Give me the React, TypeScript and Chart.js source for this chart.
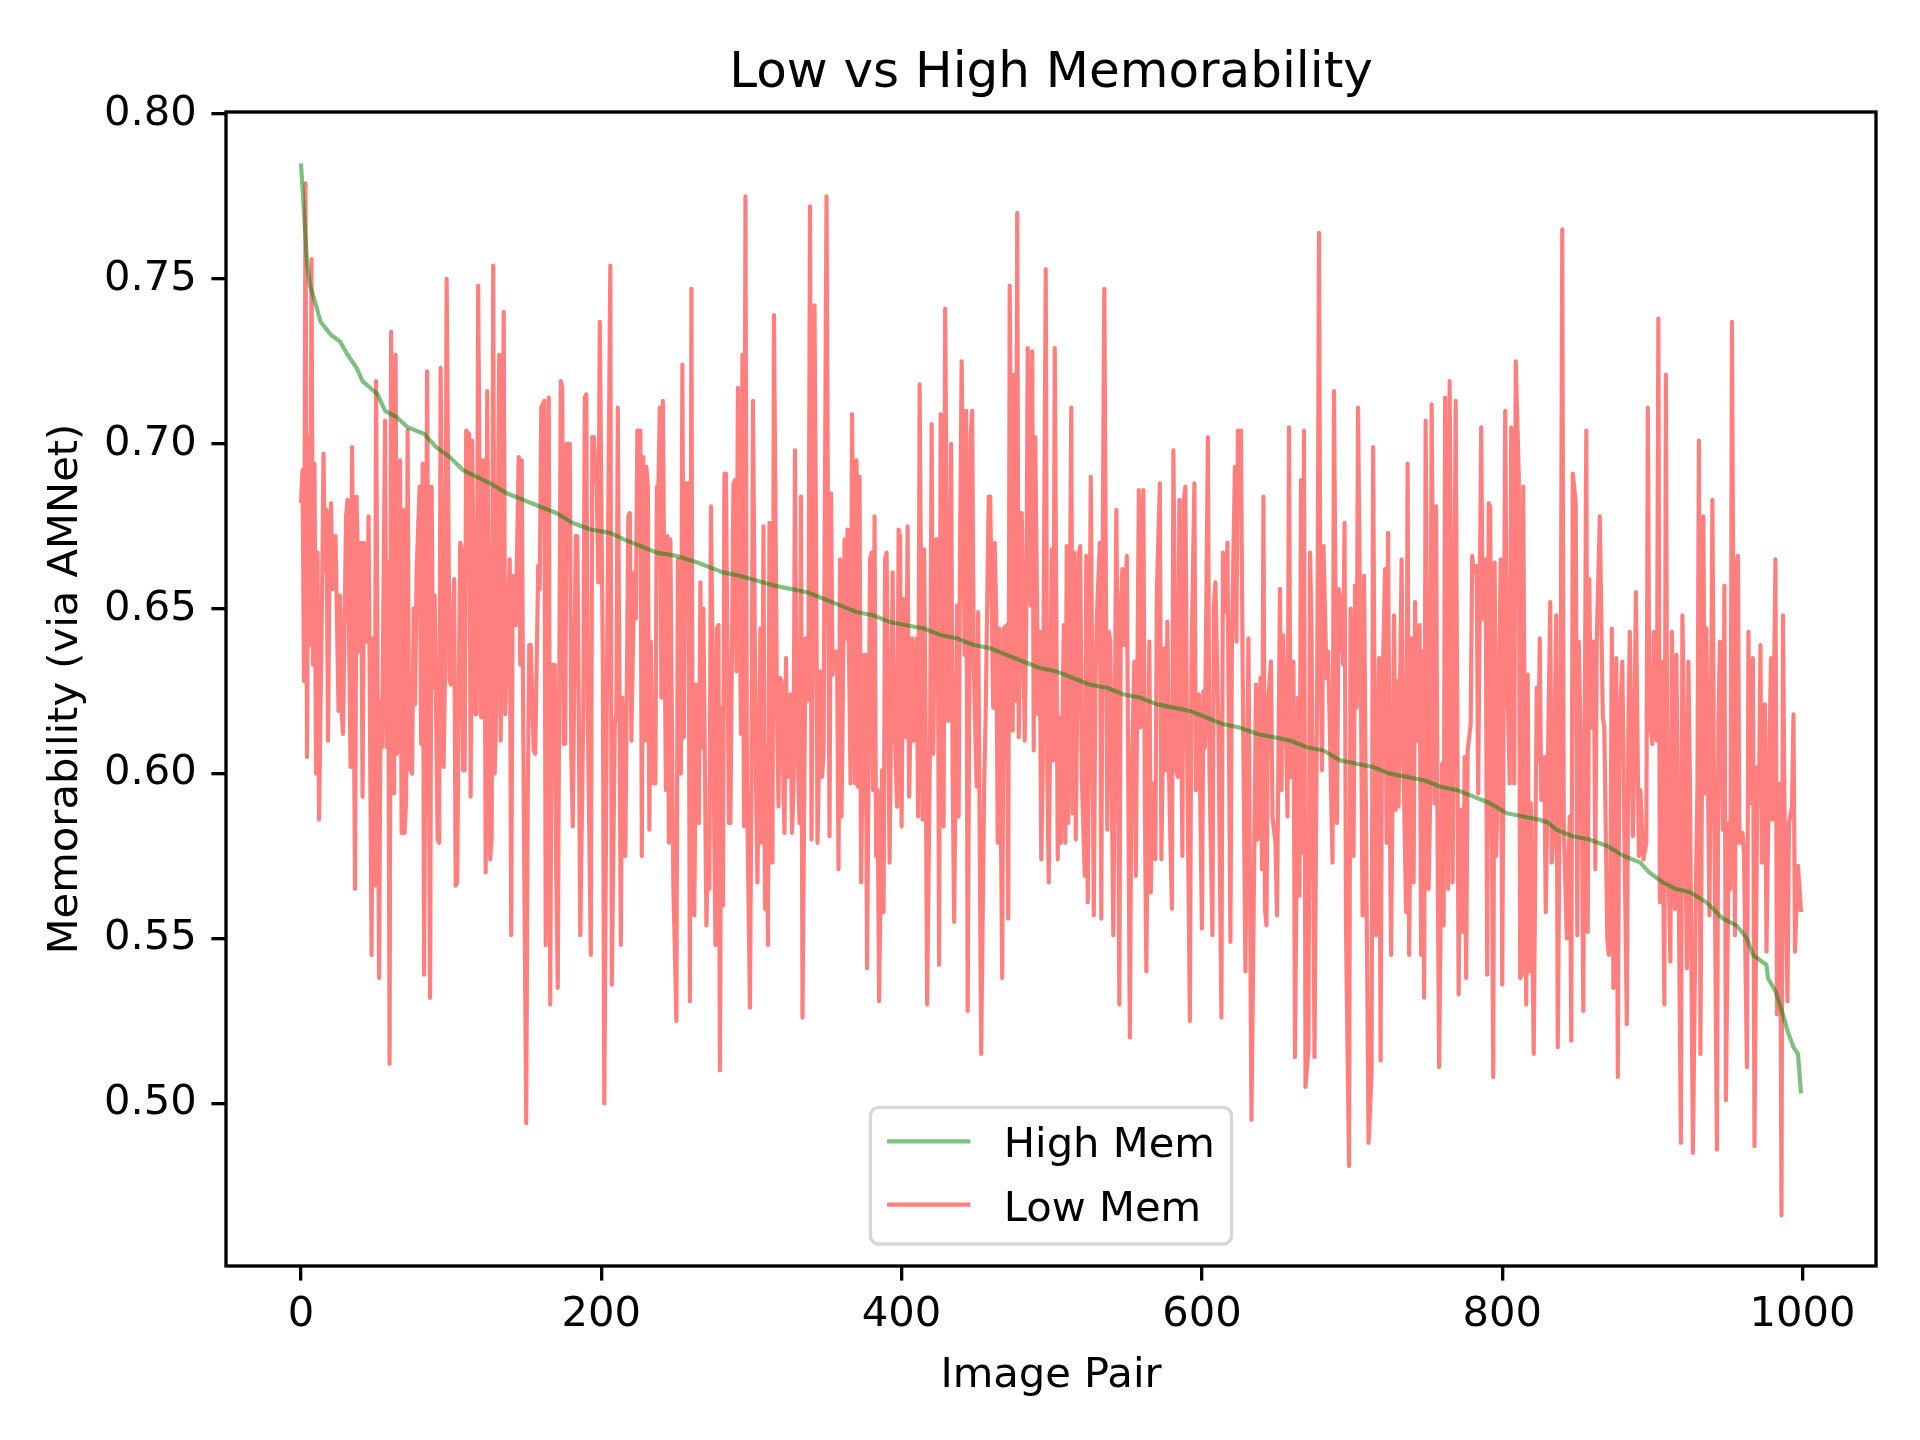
import { useEffect, useRef } from "react";
import { Chart, registerables } from "chart.js";

Chart.register(...registerables);

const FONT = '"DejaVu Sans", "Liberation Sans", sans-serif';

const chartTitle = "Low vs High Memorability";
const xAxisTitle = "Image Pair";
const yAxisTitle = "Memorability (via AMNet)";

const xTicks = [0, 200, 400, 600, 800, 1000];
const yTicks = [0.5, 0.55, 0.6, 0.65, 0.7, 0.75, 0.8];

const seriesLabels = ["High Mem", "Low Mem"];
const seriesColors = ["rgba(0, 128, 0, 0.5)", "rgba(255, 0, 0, 0.5)"];

// [image pair, memorability]
const highMem: [number, number][] = [
  [0, 0.785], [2, 0.770], [4, 0.755], [6, 0.748], [10, 0.742], [13, 0.737], [20, 0.733], [26, 0.731],
  [31, 0.727], [37, 0.723], [41, 0.719], [46, 0.717], [51, 0.715], [56, 0.710], [64, 0.708], [71, 0.705],
  [82, 0.703], [90, 0.699], [99, 0.696], [108, 0.692], [117, 0.690], [126, 0.688], [137, 0.685], [148, 0.683],
  [159, 0.681], [170, 0.679], [181, 0.676], [193, 0.674], [206, 0.673], [215, 0.671], [226, 0.669], [237, 0.667],
  [250, 0.666], [264, 0.664], [281, 0.661], [292, 0.660], [315, 0.657], [326, 0.656], [337, 0.655], [348, 0.653],
  [359, 0.651], [370, 0.649], [381, 0.648], [392, 0.646], [403, 0.645], [415, 0.644], [426, 0.642], [437, 0.641],
  [448, 0.639], [459, 0.638], [470, 0.636], [481, 0.634], [492, 0.632], [503, 0.631], [514, 0.629], [525, 0.627],
  [537, 0.626], [548, 0.624], [559, 0.623], [570, 0.621], [581, 0.620], [592, 0.619], [603, 0.617], [614, 0.615],
  [625, 0.614], [637, 0.612], [648, 0.611], [659, 0.610], [670, 0.608], [681, 0.607], [692, 0.604], [703, 0.603],
  [714, 0.602], [725, 0.600], [736, 0.599], [748, 0.598], [759, 0.596], [770, 0.595], [781, 0.593], [792, 0.591],
  [803, 0.588], [814, 0.587], [825, 0.586], [831, 0.585], [836, 0.583], [847, 0.581], [858, 0.580], [870, 0.578],
  [881, 0.575], [892, 0.573], [898, 0.570], [907, 0.567], [916, 0.565], [925, 0.564], [936, 0.561], [947, 0.556],
  [956, 0.554], [963, 0.550], [967, 0.545], [976, 0.542], [977, 0.538], [982, 0.534], [987, 0.527], [990, 0.522],
  [994, 0.517], [997, 0.515], [999, 0.503],
];

const lowMem: [number, number][] = [
  // 0 - 126
  [0, 0.682], [1, 0.692], [2, 0.628], [3, 0.779], [4, 0.605], [5, 0.702], [6, 0.639], [7, 0.756], [8, 0.633],
  [9, 0.694], [10, 0.600], [11, 0.667], [12, 0.586], [14, 0.653], [15, 0.697], [16, 0.662], [17, 0.680],
  [18, 0.610], [19, 0.665], [20, 0.682], [21, 0.656], [22, 0.665], [23, 0.672], [25, 0.619], [26, 0.654],
  [27, 0.619], [28, 0.612], [30, 0.678], [31, 0.683], [33, 0.602], [34, 0.699], [36, 0.565], [37, 0.684],
  [39, 0.637], [40, 0.670], [41, 0.593], [42, 0.670], [44, 0.640], [45, 0.678], [47, 0.545], [48, 0.641],
  [49, 0.566], [50, 0.719], [52, 0.538], [53, 0.622], [54, 0.608], [56, 0.707], [57, 0.608], [58, 0.664],
  [59, 0.512], [60, 0.734], [62, 0.594], [63, 0.727], [64, 0.606], [66, 0.695], [67, 0.582], [68, 0.680],
  [69, 0.582], [70, 0.592], [71, 0.704], [72, 0.602], [74, 0.600], [75, 0.650], [76, 0.621], [77, 0.661],
  [79, 0.687], [80, 0.609], [81, 0.694], [82, 0.539], [84, 0.722], [86, 0.532], [87, 0.687], [88, 0.626],
  [89, 0.654], [91, 0.580], [92, 0.579], [93, 0.723], [95, 0.602], [96, 0.633], [97, 0.750], [99, 0.628],
  [100, 0.627], [102, 0.659], [103, 0.566], [104, 0.567], [106, 0.670], [107, 0.668], [108, 0.601], [109, 0.601],
  [110, 0.704], [112, 0.703], [113, 0.593], [114, 0.701], [115, 0.660], [116, 0.618], [117, 0.618], [118, 0.748],
  [120, 0.617], [121, 0.695], [122, 0.695], [123, 0.570], [124, 0.716], [126, 0.574],
  // 127 - 291
  [127, 0.581], [128, 0.754], [129, 0.600], [130, 0.618], [132, 0.727], [133, 0.610], [135, 0.740], [136, 0.618],
  [139, 0.665], [140, 0.551], [141, 0.660], [142, 0.659], [143, 0.645], [145, 0.696], [146, 0.633], [147, 0.695],
  [148, 0.614], [150, 0.494], [151, 0.591], [152, 0.639], [153, 0.639], [155, 0.607], [156, 0.606], [158, 0.663],
  [159, 0.656], [160, 0.711], [162, 0.713], [163, 0.548], [165, 0.714], [166, 0.530], [167, 0.633], [169, 0.633],
  [170, 0.568], [171, 0.535], [173, 0.719], [174, 0.717], [175, 0.609], [176, 0.609], [177, 0.700], [179, 0.700],
  [180, 0.606], [181, 0.584], [183, 0.672], [184, 0.672], [185, 0.618], [186, 0.551], [188, 0.618], [189, 0.714],
  [190, 0.715], [191, 0.618], [193, 0.545], [194, 0.702], [195, 0.702], [197, 0.686], [198, 0.658], [199, 0.737],
  [201, 0.634], [202, 0.500], [204, 0.643], [206, 0.754], [207, 0.536], [209, 0.615], [210, 0.618], [211, 0.711],
  [213, 0.548], [214, 0.623], [215, 0.595], [216, 0.575], [218, 0.678], [219, 0.679], [220, 0.610], [222, 0.661],
  [223, 0.647], [224, 0.704], [226, 0.704], [227, 0.575], [228, 0.696], [229, 0.610], [230, 0.693], [231, 0.687],
  [232, 0.583], [233, 0.640], [234, 0.597], [236, 0.597], [237, 0.687], [238, 0.687], [239, 0.711], [240, 0.623],
  [241, 0.713], [243, 0.595], [244, 0.672], [245, 0.579], [246, 0.671], [248, 0.565], [249, 0.546], [250, 0.525],
  [251, 0.665], [253, 0.600], [254, 0.724], [255, 0.611], [256, 0.688], [258, 0.688], [259, 0.531], [260, 0.747],
  [261, 0.558], [262, 0.557], [263, 0.627], [265, 0.585], [266, 0.658], [267, 0.608], [268, 0.650], [270, 0.554],
  [271, 0.576], [272, 0.565], [273, 0.681], [274, 0.641], [276, 0.548], [277, 0.644], [278, 0.645], [279, 0.510],
  [280, 0.620], [281, 0.560], [282, 0.691], [283, 0.691], [285, 0.585], [286, 0.585], [288, 0.688], [289, 0.689],
  [290, 0.631], [291, 0.717],
  // 293 - 458
  [293, 0.612], [294, 0.727], [295, 0.584], [296, 0.775], [297, 0.597], [299, 0.529], [300, 0.599], [301, 0.713],
  [303, 0.597], [304, 0.567], [306, 0.644], [307, 0.579], [308, 0.675], [309, 0.559], [310, 0.608], [311, 0.548],
  [312, 0.676], [314, 0.573], [315, 0.739], [317, 0.620], [318, 0.590], [319, 0.629], [320, 0.628], [322, 0.582],
  [323, 0.635], [324, 0.599], [326, 0.624], [327, 0.582], [328, 0.595], [329, 0.698], [330, 0.620], [332, 0.585],
  [333, 0.684], [334, 0.526], [336, 0.641], [337, 0.622], [338, 0.641], [339, 0.772], [340, 0.580], [342, 0.742],
  [343, 0.674], [344, 0.579], [346, 0.631], [347, 0.599], [348, 0.606], [350, 0.775], [351, 0.674], [352, 0.581],
  [353, 0.685], [354, 0.630], [355, 0.637], [357, 0.637], [358, 0.571], [359, 0.665], [360, 0.587], [362, 0.671],
  [363, 0.641], [364, 0.674], [366, 0.597], [367, 0.709], [369, 0.597], [370, 0.695], [371, 0.596], [372, 0.690],
  [373, 0.567], [375, 0.636], [376, 0.636], [377, 0.541], [379, 0.665], [380, 0.667], [381, 0.595], [382, 0.678],
  [383, 0.575], [384, 0.595], [385, 0.531], [387, 0.601], [388, 0.558], [389, 0.665], [390, 0.667], [392, 0.573],
  [393, 0.616], [394, 0.661], [395, 0.620], [397, 0.590], [398, 0.674], [399, 0.672], [400, 0.584], [401, 0.653],
  [403, 0.611], [404, 0.675], [405, 0.593], [407, 0.641], [408, 0.610], [410, 0.641], [411, 0.587], [412, 0.718],
  [414, 0.586], [415, 0.668], [416, 0.613], [417, 0.530], [419, 0.612], [420, 0.706], [421, 0.606], [423, 0.671],
  [424, 0.671], [425, 0.542], [426, 0.709], [427, 0.672], [428, 0.584], [429, 0.741], [431, 0.616], [432, 0.618],
  [433, 0.700], [434, 0.599], [435, 0.555], [437, 0.651], [438, 0.587], [439, 0.674], [440, 0.725], [442, 0.636],
  [443, 0.710], [444, 0.528], [446, 0.702], [447, 0.710], [448, 0.633], [450, 0.596], [451, 0.649], [453, 0.515],
  [455, 0.597], [456, 0.618], [458, 0.684],
  // 459 - 624
  [459, 0.684], [461, 0.620], [462, 0.670], [463, 0.649], [464, 0.579], [465, 0.644], [467, 0.538], [468, 0.644],
  [470, 0.645], [471, 0.556], [472, 0.748], [474, 0.613], [475, 0.721], [476, 0.622], [477, 0.770], [478, 0.611],
  [480, 0.679], [482, 0.610], [483, 0.645], [484, 0.729], [486, 0.651], [487, 0.728], [488, 0.607], [489, 0.702],
  [491, 0.618], [492, 0.643], [493, 0.574], [494, 0.602], [496, 0.753], [497, 0.602], [498, 0.567], [500, 0.668],
  [501, 0.604], [502, 0.729], [504, 0.574], [505, 0.617], [506, 0.579], [508, 0.645], [509, 0.579], [510, 0.669],
  [511, 0.585], [513, 0.711], [514, 0.588], [515, 0.667], [516, 0.580], [518, 0.667], [519, 0.669], [520, 0.599],
  [522, 0.569], [523, 0.666], [524, 0.561], [526, 0.690], [528, 0.557], [529, 0.623], [530, 0.647], [532, 0.670],
  [533, 0.556], [534, 0.672], [535, 0.747], [537, 0.583], [538, 0.643], [539, 0.640], [541, 0.551], [543, 0.680],
  [544, 0.624], [545, 0.530], [546, 0.649], [547, 0.662], [548, 0.639], [550, 0.666], [552, 0.520], [553, 0.595],
  [555, 0.634], [556, 0.569], [558, 0.686], [559, 0.614], [561, 0.686], [562, 0.591], [563, 0.540], [565, 0.640],
  [566, 0.564], [567, 0.597], [569, 0.574], [570, 0.655], [572, 0.688], [573, 0.574], [575, 0.638], [576, 0.601],
  [577, 0.646], [578, 0.602], [580, 0.559], [581, 0.698], [583, 0.601], [584, 0.599], [585, 0.683], [587, 0.575],
  [588, 0.683], [589, 0.687], [590, 0.616], [592, 0.525], [593, 0.633], [595, 0.688], [596, 0.595], [598, 0.624],
  [600, 0.553], [601, 0.625], [602, 0.608], [604, 0.702], [605, 0.602], [607, 0.551], [608, 0.651], [609, 0.658],
  [611, 0.614], [613, 0.526], [614, 0.667], [616, 0.649], [617, 0.670], [619, 0.549], [620, 0.641], [622, 0.693],
  [623, 0.640], [624, 0.704],
  // 626 - 791
  [626, 0.704], [627, 0.639], [629, 0.540], [631, 0.641], [633, 0.495], [635, 0.581], [636, 0.627], [637, 0.580],
  [639, 0.629], [640, 0.571], [641, 0.684], [642, 0.559], [643, 0.554], [644, 0.621], [646, 0.634], [647, 0.587],
  [649, 0.579], [650, 0.557], [652, 0.656], [653, 0.595], [654, 0.642], [656, 0.614], [657, 0.587], [658, 0.705],
  [659, 0.599], [661, 0.634], [662, 0.514], [664, 0.623], [665, 0.563], [666, 0.689], [667, 0.576], [668, 0.704],
  [669, 0.505], [671, 0.517], [672, 0.667], [673, 0.645], [675, 0.514], [677, 0.645], [678, 0.764], [679, 0.637],
  [680, 0.601], [681, 0.669], [683, 0.629], [684, 0.637], [685, 0.618], [687, 0.573], [688, 0.716], [690, 0.585],
  [691, 0.656], [692, 0.653], [694, 0.633], [695, 0.676], [696, 0.551], [698, 0.481], [699, 0.650], [701, 0.575],
  [702, 0.657], [703, 0.620], [704, 0.711], [706, 0.618], [707, 0.557], [708, 0.660], [711, 0.488], [713, 0.509],
  [714, 0.699], [716, 0.551], [718, 0.635], [719, 0.513], [720, 0.620], [722, 0.662], [723, 0.579], [724, 0.673],
  [725, 0.595], [726, 0.545], [728, 0.648], [729, 0.589], [730, 0.628], [731, 0.590], [733, 0.665], [734, 0.610],
  [736, 0.558], [737, 0.694], [738, 0.545], [740, 0.641], [741, 0.567], [742, 0.652], [743, 0.610], [745, 0.645],
  [746, 0.545], [747, 0.637], [748, 0.532], [749, 0.707], [751, 0.565], [752, 0.591], [753, 0.712], [755, 0.591],
  [756, 0.681], [757, 0.575], [758, 0.511], [760, 0.603], [761, 0.554], [762, 0.714], [764, 0.565], [765, 0.719],
  [767, 0.567], [769, 0.713], [771, 0.533], [772, 0.589], [774, 0.552], [775, 0.605], [776, 0.538], [777, 0.607],
  [779, 0.615], [780, 0.666], [781, 0.661], [783, 0.663], [784, 0.594], [786, 0.705], [787, 0.647], [789, 0.665],
  [790, 0.539], [791, 0.682],
  // 792 - 999
  [792, 0.681], [794, 0.508], [795, 0.664], [796, 0.575], [797, 0.595], [799, 0.665], [800, 0.536], [802, 0.710],
  [803, 0.637], [805, 0.597], [806, 0.705], [808, 0.597], [809, 0.725], [811, 0.691], [812, 0.538], [813, 0.539],
  [814, 0.687], [816, 0.530], [817, 0.630], [818, 0.540], [819, 0.591], [821, 0.515], [823, 0.626], [824, 0.604],
  [825, 0.641], [826, 0.592], [828, 0.605], [829, 0.558], [832, 0.652], [833, 0.573], [834, 0.580], [836, 0.648],
  [837, 0.517], [839, 0.632], [840, 0.765], [841, 0.585], [843, 0.550], [845, 0.587], [846, 0.519], [847, 0.691],
  [849, 0.682], [850, 0.551], [851, 0.640], [853, 0.593], [854, 0.528], [856, 0.704], [857, 0.552], [858, 0.659],
  [859, 0.614], [861, 0.640], [862, 0.571], [863, 0.641], [865, 0.678], [867, 0.617], [868, 0.614], [870, 0.550],
  [871, 0.545], [872, 0.556], [873, 0.644], [874, 0.535], [876, 0.635], [877, 0.508], [878, 0.612], [880, 0.634],
  [881, 0.595], [883, 0.524], [884, 0.614], [885, 0.643], [887, 0.581], [888, 0.609], [889, 0.655], [891, 0.575],
  [892, 0.595], [894, 0.574], [896, 0.579], [897, 0.711], [898, 0.618], [900, 0.609], [901, 0.643], [903, 0.610],
  [904, 0.738], [905, 0.561], [906, 0.634], [908, 0.530], [909, 0.721], [910, 0.589], [912, 0.543], [913, 0.643],
  [915, 0.559], [916, 0.636], [917, 0.595], [919, 0.488], [920, 0.648], [921, 0.618], [923, 0.541], [924, 0.634],
  [925, 0.599], [927, 0.485], [929, 0.565], [930, 0.595], [931, 0.701], [932, 0.515], [934, 0.678], [935, 0.594],
  [936, 0.644], [938, 0.557], [939, 0.614], [940, 0.683], [941, 0.602], [943, 0.486], [944, 0.614], [945, 0.640],
  [947, 0.583], [948, 0.657], [949, 0.501], [951, 0.585], [952, 0.565], [953, 0.737], [955, 0.551], [956, 0.663],
  [957, 0.666], [958, 0.579], [960, 0.582], [961, 0.576], [963, 0.511], [964, 0.643], [965, 0.591], [967, 0.635],
  [968, 0.487], [970, 0.602], [971, 0.591], [972, 0.639], [973, 0.573], [975, 0.621], [976, 0.546], [977, 0.579],
  [979, 0.635], [980, 0.586], [982, 0.665], [983, 0.527], [985, 0.597], [986, 0.466], [987, 0.648], [988, 0.589],
  [990, 0.531], [991, 0.585], [993, 0.590], [994, 0.618], [995, 0.546], [997, 0.572], [999, 0.558],
];

const PT = 300 / 72; // matplotlib points -> px at 300 dpi
const fs = 10 * PT;

const decorations = {
  id: "decorations",
  afterDatasetsDraw(chart: any) {
    const { ctx, chartArea: a } = chart;
    const cx = (a.left + a.right) / 2;
    ctx.save();

    // axes frame
    ctx.strokeStyle = "#000";
    ctx.lineWidth = 0.8 * PT;
    ctx.strokeRect(a.left, a.top, a.right - a.left, a.bottom - a.top);

    // titles
    ctx.fillStyle = "#000";
    ctx.textAlign = "center";
    ctx.textBaseline = "alphabetic";
    ctx.font = `${12 * PT}px ${FONT}`;
    ctx.fillText(chartTitle, cx, a.top - 25);
    ctx.font = `${fs}px ${FONT}`;
    ctx.fillText(xAxisTitle, cx, a.bottom + 121);
    ctx.save();
    ctx.translate(a.left - 149.5, (a.top + a.bottom) / 2);
    ctx.rotate(-Math.PI / 2);
    ctx.fillText(yAxisTitle, 0, 0);
    ctx.restore();

    // legend, lower center
    const pad = 0.4 * fs;
    const handle = 2 * fs;
    const textPad = 0.8 * fs;
    const textW = Math.max(...seriesLabels.map((l) => ctx.measureText(l).width));
    const boxW = 2 * pad + handle + textPad + textW;
    const boxH = 136.6;
    const boxX = cx - boxW / 2;
    const boxY = a.bottom - 22 - boxH;
    ctx.beginPath();
    ctx.roundRect(boxX, boxY, boxW, boxH, 0.2 * fs);
    ctx.fillStyle = "rgba(255, 255, 255, 0.8)";
    ctx.fill();
    ctx.strokeStyle = "rgba(204, 204, 204, 0.8)";
    ctx.lineWidth = 0.8 * PT;
    ctx.stroke();

    ctx.textAlign = "left";
    seriesLabels.forEach((label, i) => {
      const yc = boxY + 34 + i * 63.3;
      ctx.beginPath();
      ctx.moveTo(boxX + pad, yc);
      ctx.lineTo(boxX + pad + handle, yc);
      ctx.strokeStyle = seriesColors[i];
      ctx.lineWidth = 1 * PT;
      ctx.stroke();
      ctx.fillStyle = "#000";
      ctx.fillText(label, boxX + pad + handle + textPad, yc + 16);
    });

    ctx.restore();
  },
};

const App = () => {
  const chartRef = useRef<HTMLCanvasElement | null>(null);

  useEffect(() => {
    const tickFont = { family: FONT, size: fs };
    const grid = {
      drawOnChartArea: false,
      drawTicks: true,
      tickLength: 3.5 * PT,
      tickWidth: 0.8 * PT,
      tickColor: "#000",
      color: "#000",
      lineWidth: 0.8 * PT,
    };

    const chart = new Chart(chartRef.current!, {
      type: "line",
      data: {
        datasets: [highMem, lowMem].map((series, i) => ({
          label: seriesLabels[i],
          data: series.map(([x, y]) => ({ x, y })),
          borderColor: seriesColors[i],
          borderWidth: 1 * PT,
          borderJoinStyle: "round" as const,
          pointRadius: 0,
          tension: 0,
          fill: false,
        })),
      },
      options: {
        animation: false,
        responsive: false,
        devicePixelRatio: 1,
        events: [],
        layout: { padding: { top: 112, right: 44, bottom: 0, left: 0 } },
        plugins: {
          legend: { display: false },
          title: { display: false },
          tooltip: { enabled: false },
        },
        scales: {
          x: {
            type: "linear",
            min: -49.95,
            max: 1048.95,
            afterBuildTicks: (s: any) => {
              s.ticks = xTicks.map((value) => ({ value }));
            },
            afterFit: (s: any) => {
              s.height = 174;
            },
            ticks: {
              font: tickFont,
              color: "#000",
              padding: 10,
              maxRotation: 0,
              autoSkip: false,
              callback: (v: any) => String(v),
            },
            grid,
            border: { display: false },
          },
          y: {
            type: "linear",
            min: 0.4507,
            max: 0.8006,
            afterBuildTicks: (s: any) => {
              s.ticks = yTicks.map((value) => ({ value }));
            },
            afterFit: (s: any) => {
              s.width = 226;
            },
            ticks: {
              font: tickFont,
              color: "#000",
              padding: 3.5 * PT,
              autoSkip: false,
              callback: (v: any) => Number(v).toFixed(2),
            },
            grid,
            border: { display: false },
          },
        },
      },
      plugins: [decorations],
    });

    return () => chart.destroy();
  }, []);

  return (
    <div style={{ position: "absolute", left: 0, top: 0, width: 1920, height: 1440, background: "#fff" }}>
      <canvas ref={chartRef} width={1920} height={1440} style={{ display: "block", width: 1920, height: 1440 }} />
    </div>
  );
};

export default App;
